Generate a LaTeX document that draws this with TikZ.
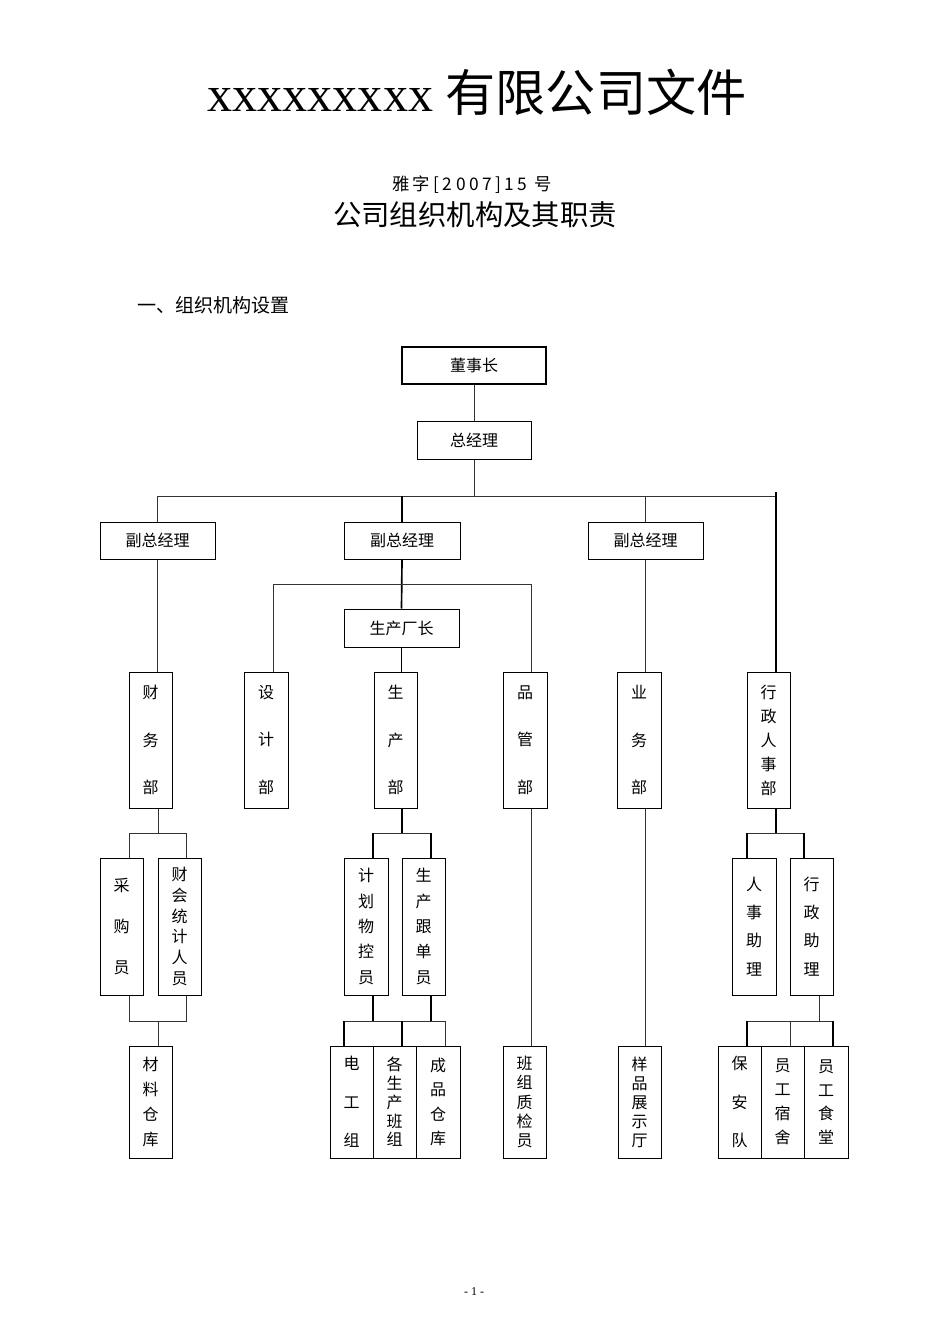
\documentclass[tikz,border=0pt]{standalone}
\usepackage{fontspec}
\setmainfont{Liberation Serif}
\newfontfamily\cjk{Noto Sans CJK SC}
\usetikzlibrary{shadows}

% box from its corners (in px): name, x1, y1, x2, y2, text
\newcommand{\boxat}[7][]{%
  \node[box,#1,minimum width={(#5-#3)*0.75pt},minimum height={(#6-#4)*0.75pt}]
    (#2) at ({(#3+#5)/2},{(#4+#6)/2}) {#7};}

\tikzset{
  box/.style={draw=black, line width=0.75pt, fill=white, inner sep=0pt,
    align=center, font=\cjk\fontsize{12}{14}\selectfont,
    general shadow={fill=black, shadow xshift=1.1pt, shadow yshift=-1.1pt}},
  lead/.style={font=\cjk\fontsize{12}{#1}\selectfont},
  conn/.style={draw=black!80, line width=0.7pt},
  heavy/.style={draw=black, line width=1.25pt},
}

\begin{document}
\begin{tikzpicture}[x=0.75pt,y=-0.75pt]
\useasboundingbox (0,0) rectangle (950,1344);
\fill[white] (0,0) rectangle (950,1344);

% headings
\node[anchor=base, inner sep=0pt] (title) at (477,112)
  {\fontsize{37.6}{40}\selectfont xxxxxxxxx {\cjk 有限公司文件}};
\node[anchor=base, inner sep=0pt] (docno) at (472,191)
  {\cjk\fontsize{13}{14}\selectfont\addfontfeature{LetterSpace=20}雅字[2007]15 号};
\node[anchor=base, inner sep=0pt] (subject) at (475,226)
  {\cjk\fontsize{21.3}{24}\selectfont 公司组织机构及其职责};
\node[anchor=base west, inner sep=0pt] (sec) at (137,312)
  {\cjk\fontsize{14.3}{16}\selectfont 一、组织机构设置};
\node[anchor=base, inner sep=0pt] (pageno) at (474,1295)
  {\fontsize{9}{10}\selectfont - 1 -};

% top levels
\boxat[line width=1.2pt]{ceo}{402}{347}{546}{384}{董事长}
\boxat{gm}{417}{421}{531}{459}{总经理}
\boxat{vp1}{100}{522}{215}{559}{副总经理}
\boxat{vp2}{344}{522}{460}{559}{副总经理}
\boxat{vp3}{588}{522}{703}{559}{副总经理}
\boxat{plant}{344}{609}{459}{647}{生产厂长}

% departments
\boxat[lead=35.6]{fin}{129}{672}{172}{808}{财\\务\\部}
\boxat[lead=35.6]{des}{244}{672}{288}{808}{设\\计\\部}
\boxat[lead=35.6]{prod}{374}{672}{417}{808}{生\\产\\部}
\boxat[lead=35.6]{qc}{503}{672}{547}{808}{品\\管\\部}
\boxat[lead=35.6]{biz}{617}{672}{661}{808}{业\\务\\部}
\boxat[lead=18]{adm}{747}{672}{790}{808}{行\\政\\人\\事\\部}

% second row
\boxat[lead=30.5]{buy}{100}{858}{143}{995}{采\\购\\员}
\boxat[lead=15.6]{acc}{158}{858}{201}{995}{财\\会\\统\\计\\人\\员}
\boxat[lead=19]{plan}{344}{858}{388}{995}{计\\划\\物\\控\\员}
\boxat[lead=19]{track}{402}{858}{445}{995}{生\\产\\跟\\单\\员}
\boxat[lead=21.2]{hr}{732}{858}{776}{995}{人\\事\\助\\理}
\boxat[lead=21.2]{ad}{790}{858}{833}{995}{行\\政\\助\\理}

% bottom row
\boxat[lead=18.7]{store}{129}{1046}{172}{1158}{材\\料\\仓\\库}
\boxat[lead=28.7]{elec}{330}{1046}{373}{1158}{电\\工\\组}
\boxat[lead=14.1]{crews}{373}{1046}{416}{1158}{各\\生\\产\\班\\组}
\boxat[lead=18.3]{goods}{416}{1046}{460}{1158}{成\\品\\仓\\库}
\boxat[lead=14.3]{qcs}{503}{1046}{546}{1158}{班\\组\\质\\检\\员}
\boxat[lead=14.3]{show}{618}{1046}{661}{1158}{样\\品\\展\\示\\厅}
\boxat[lead=28.7]{guard}{718}{1046}{761}{1158}{保\\安\\队}
\boxat[lead=17.9]{dorm}{761}{1046}{804}{1158}{员\\工\\宿\\舍}
\boxat[lead=17.9]{canteen}{804}{1046}{848}{1158}{员\\工\\食\\堂}

% junction points
\coordinate (bus) at (0,496);
\coordinate (busR) at (776,492);
\coordinate (b2L) at (273,584);
\coordinate (b2R) at (531,584);
\coordinate (f1) at (158,833);
\coordinate (fL) at (129,833);
\coordinate (fR) at (186,833);
\coordinate (fL2) at (129,1021);
\coordinate (fR2) at (186,1021);
\coordinate (f2) at (158,1021);
\coordinate (p1) at (402,833);
\coordinate (pL) at (373,833);
\coordinate (pR) at (431,833);
\coordinate (pL2) at (373,1021);
\coordinate (pR2) at (431,1021);
\coordinate (pb1) at (344,1021);
\coordinate (pb2) at (402,1021);
\coordinate (pb3) at (445,1021);
\coordinate (a1) at (776,833);
\coordinate (aL) at (747,833);
\coordinate (aR) at (804,833);
\coordinate (a2) at (819,1021);
\coordinate (ab1) at (747,1021);
\coordinate (ab2) at (790,1021);
\coordinate (ab3) at (833,1021);

% chairman, general manager and the main bus
\draw[conn] (ceo.south) -- (gm.north);
\draw[conn] (gm.south) -- (gm.south |- bus);
\draw[conn] (vp1.north |- bus) -- (busR |- bus);
\draw[conn] (vp1.north |- bus) -- (vp1.north);
\draw[heavy] (vp2.north |- bus) -- (vp2.north);
\draw[conn] (vp3.north |- bus) -- (vp3.north);
\draw[heavy] (busR) -- (busR |- adm.north);

% deputy managers to departments
\draw[conn] (vp1.south) -- (vp1.south |- fin.north);
\draw[heavy] (vp2.south) -- (plant.north);
\draw[heavy] (plant.south) -- (plant.south |- prod.north);
\draw[conn] (b2L |- des.north) -- (b2L) -- (b2R) -- (b2R |- qc.north);
\draw[conn] (vp3.south) -- (vp3.south |- biz.north);

% finance branch
\draw[conn] (f1 |- fin.south) -- (f1);
\draw[conn] (fL |- buy.north) -- (fL) -- (fR) -- (fR |- acc.north);
\draw[conn] (fL |- buy.south) -- (fL2) -- (fR2) -- (fR |- acc.south);
\draw[conn] (f2) -- (f2 |- store.north);

% production branch
\draw[heavy] (p1 |- prod.south) -- (p1);
\draw[conn] (pL) -- (pR);
\draw[heavy] (pL) -- (pL |- plan.north);
\draw[heavy] (pR) -- (pR |- track.north);
\draw[heavy] (pL |- plan.south) -- (pL2);
\draw[heavy] (pR |- track.south) -- (pR2);
\draw[conn] (pb1) -- (pb3);
\draw[heavy] (pb1) -- (pb1 |- elec.north);
\draw[heavy] (pb2) -- (pb2 |- crews.north);
\draw[conn] (pb3) -- (pb3 |- goods.north);

% quality and sales
\draw[conn] (b2R |- qc.south) -- (b2R |- qcs.north);
\draw[conn] (vp3.south |- biz.south) -- (vp3.south |- show.north);

% administration branch
\draw[heavy] (a1 |- adm.south) -- (a1);
\draw[conn] (aL) -- (aR);
\draw[heavy] (aL) -- (aL |- hr.north);
\draw[heavy] (aR) -- (aR |- ad.north);
\draw[conn] (a2 |- ad.south) -- (a2);
\draw[conn] (ab1) -- (ab3);
\draw[heavy] (ab1) -- (ab1 |- guard.north);
\draw[conn] (ab2) -- (ab2 |- dorm.north);
\draw[heavy] (ab3) -- (ab3 |- canteen.north);
\end{tikzpicture}
\end{document}
